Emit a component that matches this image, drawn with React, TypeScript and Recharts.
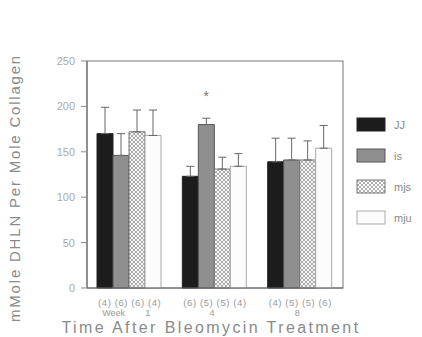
import {
  BarChart, Bar, XAxis, YAxis, ErrorBar, usePlotArea,
} from 'recharts'

const weeks   = ['Week 1', '4', '8']
const counts  = ['(4) (6) (6) (4)', '(6) (5) (5) (4)', '(4) (5) (5) (6)']
const jj      = [170, 123, 139]
const is      = [146, 180, 141]
const mjs     = [172, 131, 141]
const mju     = [168, 134, 154]
const jjErr   = [29, 11, 26]
const isErr   = [24, 7, 24]
const mjsErr  = [24, 13, 21]
const mjuErr  = [28, 14, 25]
const stars   = ['', '*', '']
const yTicks  = [0, 50, 100, 150, 200, 250]

const series = [
  { key: 'jj',  name: 'JJ',  fill: '#1c1c1c', stroke: '#222' },
  { key: 'is',  name: 'is',  fill: '#8f8f8f', stroke: '#555' },
  { key: 'mjs', name: 'mjs', fill: 'url(#xhatch)', stroke: '#777' },
  { key: 'mju', name: 'mju', fill: '#fcfcfc', stroke: '#aaa' },
]

const data = weeks.map((w, i) => ({
  week: w,
  jj: jj[i],  jjE: [0, jjErr[i]],
  is: is[i],  isE: [0, isErr[i]],
  mjs: mjs[i], mjsE: [0, mjsErr[i]],
  mju: mju[i], mjuE: [0, mjuErr[i]],
}))

const GRIS = '#8a8a8a'
const FONT = '"Liberation Sans", Arial, sans-serif'

const WeekTick = ({ x, y, payload, index }: any) => {
  const parts = String(payload.value).split(' ')
  return (
    <g transform={`translate(${x},${y})`} fontFamily={FONT} fill="#999">
      <text y={10} textAnchor="middle" fontSize={9.5} letterSpacing={0.6}>{counts[index]}</text>
      {parts.length > 1 ? (
        <>
          <text x={-16} y={20} textAnchor="middle" fontSize={9}>{parts[0]}</text>
          <text x={18} y={20} textAnchor="middle" fontSize={9}>{parts[1]}</text>
        </>
      ) : (
        <text x={-3} y={20} textAnchor="middle" fontSize={9}>{parts[0]}</text>
      )}
    </g>
  )
}

const StarLabel = ({ x, y, width, index }: any) => {
  if (!stars[index]) return null
  return (
    <text x={x + width / 2} y={y - 24} textAnchor="middle" fontSize={14} fill="#777" fontFamily={FONT}>
      {stars[index]}
    </text>
  )
}

// box round the plot area
const Frame = () => {
  const p = usePlotArea()
  if (!p) return null
  return <rect x={p.x} y={p.y} width={p.width} height={p.height} fill="none" stroke="#777" />
}

const YTitle = () => (
  <text
    transform="translate(20,188) rotate(-90)"
    textAnchor="middle"
    fontSize={15}
    letterSpacing={1.8}
    fill={GRIS}
    fontFamily={FONT}
  >
    mMole DHLN Per Mole Collagen
  </text>
)

const LegendBox = () => (
  <div style={{ position: 'absolute', left: 356, top: 109, fontFamily: FONT, color: GRIS, fontSize: 11 }}>
    {series.map(s => (
      <div key={s.key} style={{ display: 'flex', alignItems: 'center', height: 31 }}>
        <svg width={31} height={15}>
          <defs>
            <pattern id={`lg-${s.key}`} width={4} height={4} patternUnits="userSpaceOnUse">
              <rect width={4} height={4} fill="#fff" />
              <path d="M0,0 L4,4 M4,0 L0,4" stroke="#999" strokeWidth={0.8} />
            </pattern>
          </defs>
          <rect x={1} y={1} width={28} height={13}
            fill={s.key === 'mjs' ? `url(#lg-${s.key})` : s.fill} stroke={s.stroke} />
        </svg>
        <span style={{ marginLeft: 7 }}>{s.name}</span>
      </div>
    ))}
  </div>
)

export default function App() {
  return (
    <div style={{ position: 'absolute', left: 0, top: 0, width: 422, height: 337, background: '#fff' }}>
      <BarChart
        width={422}
        height={337}
        data={data}
        margin={{ top: 61, right: 79, left: 0, bottom: 0 }}
        barCategoryGap={10}
        barGap={0}
      >
        <defs>
          <pattern id="xhatch" width={4} height={4} patternUnits="userSpaceOnUse">
            <rect width={4} height={4} fill="#f4f4f4" />
            <path d="M0,0 L4,4 M4,0 L0,4" stroke="#9a9a9a" strokeWidth={0.8} />
          </pattern>
        </defs>
        <Frame />
        <YTitle />
        <XAxis
          dataKey="week"
          height={49}
          tickLine={false}
          axisLine={{ stroke: '#666' }}
          tick={<WeekTick />}
          interval={0}
          label={{
            value: 'Time  After  Bleomycin  Treatment',
            position: 'insideBottom',
            offset: 4,
            dx: -4,
            fill: GRIS,
            fontSize: 16,
            letterSpacing: 2.4,
            fontFamily: FONT,
          }}
        />
        <YAxis
          width={87}
          domain={[0, 250]}
          ticks={yTicks}
          tickLine={{ stroke: '#888' }}
          tickSize={6}
          tickMargin={6}
          axisLine={{ stroke: '#666' }}
          tick={{ fill: '#aaa', fontSize: 11, fontFamily: FONT }}
        />
        {series.map(s => (
          <Bar
            key={s.key}
            dataKey={s.key}
            name={s.name}
            fill={s.fill}
            stroke={s.stroke}
            strokeWidth={1}
            isAnimationActive={false}
            label={s.key === 'is' ? <StarLabel /> : undefined}
          >
            <ErrorBar dataKey={`${s.key}E`} direction="y" width={4} stroke="#666" strokeWidth={1} />
          </Bar>
        ))}
      </BarChart>
      <LegendBox />
    </div>
  )
}
